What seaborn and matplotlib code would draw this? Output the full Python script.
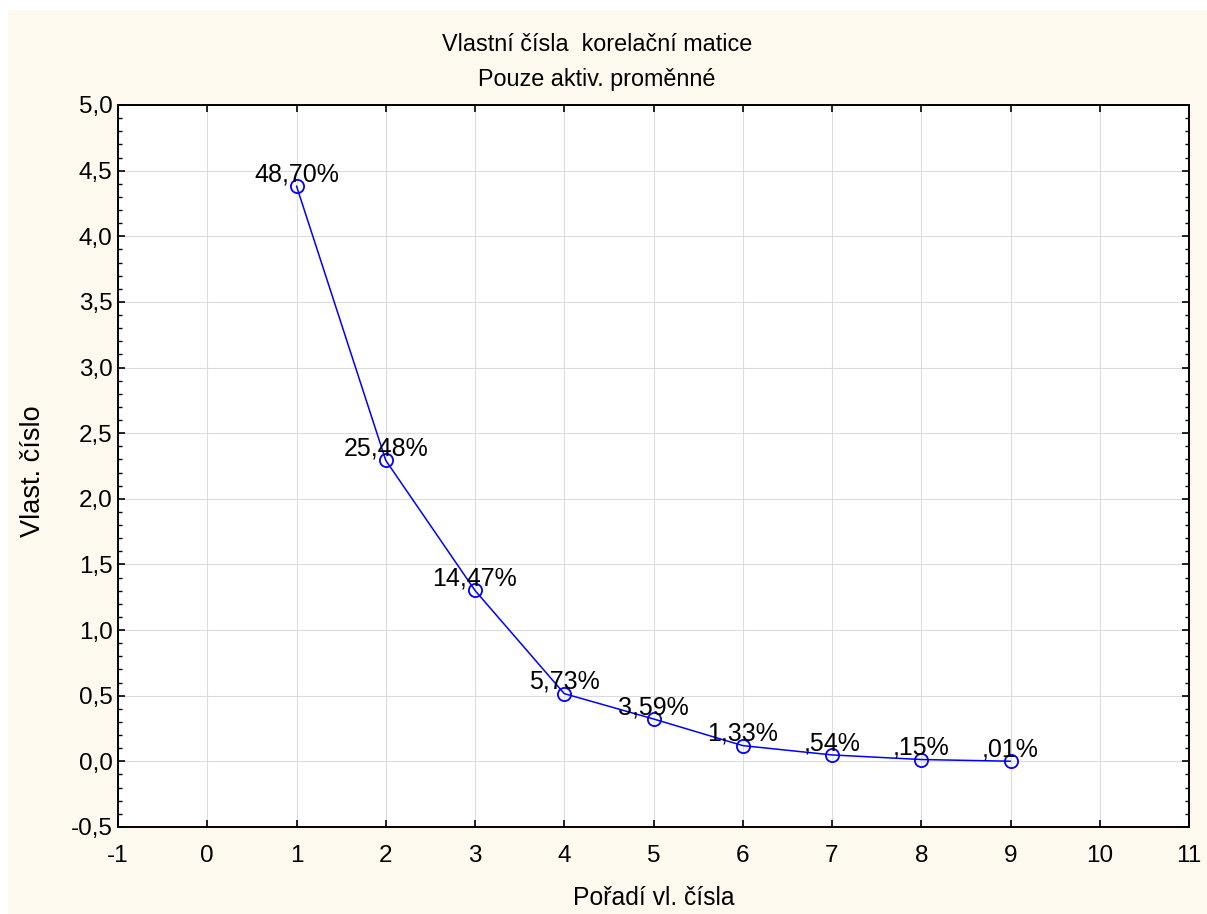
import matplotlib
matplotlib.use("Agg")
import matplotlib.pyplot as plt
from matplotlib.patches import Rectangle
from matplotlib.ticker import MultipleLocator, FuncFormatter
import seaborn as sns
import pandas as pd

# Eigenvalues of the correlation matrix and their share of variance
order = [1, 2, 3, 4, 5, 6, 7, 8, 9]
eigenvalues = [4.383, 2.293, 1.302, 0.516, 0.323, 0.120, 0.049, 0.014, 0.001]
percents = [48.70, 25.48, 14.47, 5.73, 3.59, 1.33, 0.54, 0.15, 0.01]

title_lines = ["Vlastní čísla  korelační matice", "Pouze aktiv. proměnné"]
x_label = "Pořadí vl. čísla"
y_label = "Vlast. číslo"

sns.set_style("ticks")
plt.rcParams["font.family"] = ["Liberation Sans", "DejaVu Sans"]
plt.rcParams["axes.unicode_minus"] = False
plt.rcParams["text.color"] = "black"
plt.rcParams["xtick.color"] = "black"
plt.rcParams["ytick.color"] = "black"

W, H = 1207, 914
fig = plt.figure(figsize=(W / 100, H / 100), dpi=100, facecolor="white")
bg = "#FEF9EE"
fig.patches.append(Rectangle((8 / W, 0), 1, 1 - 10 / H, transform=fig.transFigure,
                             facecolor=bg, edgecolor="none", zorder=-10))

ax = fig.add_axes([118 / W, 87 / H, (1189 - 118) / W, (827 - 105) / H])
ax.set_zorder(1)
ax.set_facecolor("white")

df = pd.DataFrame({"order": order, "eig": eigenvalues})
sns.lineplot(data=df, x="order", y="eig", ax=ax, color="#0000FF", linewidth=1.1,
             marker="o", markersize=9.5, markerfacecolor="none",
             markeredgecolor="#0000FF", markeredgewidth=1.3, zorder=3)

def pct_label(p):
    s = f"{p:.2f}".replace(".", ",")
    if s.startswith("0,"):
        s = s[1:]
    return s + "%"

for xv, yv, p in zip(order, eigenvalues, percents):
    ax.annotate(pct_label(p), (xv, yv), xytext=(0, 3.5), textcoords="offset points",
                ha="center", va="baseline", fontsize=18, color="black", zorder=4)

ax.set_xlim(-1, 11)
ax.set_ylim(-0.5, 5.0)
ax.xaxis.set_major_locator(MultipleLocator(1))
ax.yaxis.set_major_locator(MultipleLocator(0.5))
ax.yaxis.set_minor_locator(MultipleLocator(0.1))
ax.xaxis.set_major_formatter(FuncFormatter(lambda v, _: f"{int(round(v))}"))
ax.yaxis.set_major_formatter(FuncFormatter(lambda v, _: f"{v:.1f}".replace(".", ",")))

ax.grid(True, which="major", color="#DCDCDC", linewidth=0.8, zorder=0)
ax.set_axisbelow(True)

for s in ax.spines.values():
    s.set_color("black")
    s.set_linewidth(1.4)
    s.set_visible(True)

ax.tick_params(which="both", direction="in", top=True, right=True, colors="black")
ax.tick_params(which="major", length=5, width=1.2, labelsize=17.5)
ax.tick_params(which="minor", length=3, width=1.0)
ax.tick_params(axis="x", which="major", pad=13)
ax.tick_params(axis="y", which="major", pad=4)

ax.set_xlabel("")
ax.set_ylabel("")

fig.text(597 / W, 1 - 51 / H, title_lines[0], ha="center", va="baseline", fontsize=16.8)
fig.text(597 / W, 1 - 86 / H, title_lines[1], ha="center", va="baseline", fontsize=16.8)
fig.text(654 / W, 1 - 905 / H, x_label, ha="center", va="baseline", fontsize=17.8)
fig.text(33 / W, 1 - 471 / H, y_label, ha="center", va="center", rotation=90, fontsize=19.5)

fig.savefig("out.png", dpi=100, facecolor=fig.get_facecolor())
